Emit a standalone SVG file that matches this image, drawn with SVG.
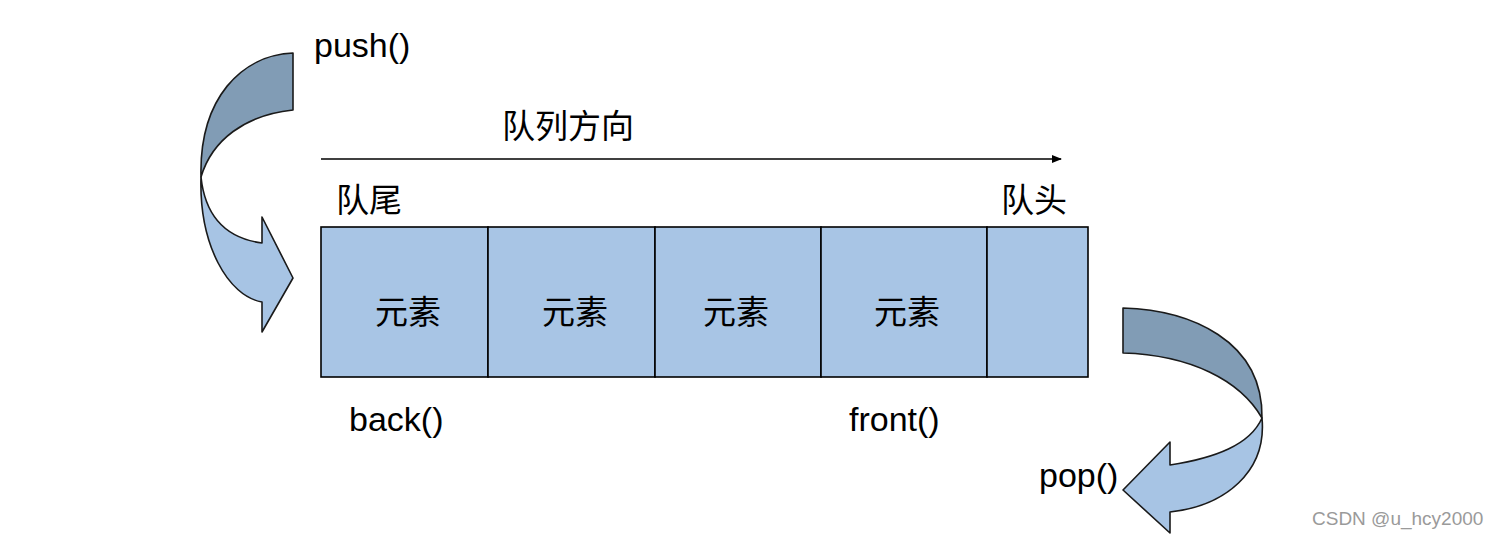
<svg xmlns="http://www.w3.org/2000/svg" width="1497" height="538" viewBox="0 0 1497 538">
<style>
.lat{font-family:"Liberation Sans",Arial,sans-serif;font-size:34px;fill:#000}
.cjk{font-family:"Noto Sans CJK SC","Liberation Sans",sans-serif;font-size:33px;fill:#000}
.cell{fill:#a8c5e5;stroke:#000;stroke-width:1.6}
.dark{fill:#819cb5;stroke:#1a1a1a;stroke-width:1.6;stroke-linejoin:round}
.light{fill:#a7c4e4;stroke:#1a1a1a;stroke-width:1.6;stroke-linejoin:round}
.wm{font-family:"Liberation Sans",Arial,sans-serif;font-size:19px;fill:#9a9a9a}
</style>
<defs>
<marker id="ah" markerWidth="10" markerHeight="8" refX="9" refY="4" orient="auto" markerUnits="userSpaceOnUse">
<path d="M0,0 L10,4 L0,8 Z" fill="#000"/>
</marker>
</defs>
<rect width="1497" height="538" fill="#fff"/>

<g id="queue">
<rect id="cell1" class="cell" x="321" y="227" width="167" height="150"/>
<rect id="cell2" class="cell" x="488" y="227" width="167" height="150"/>
<rect id="cell3" class="cell" x="655" y="227" width="166" height="150"/>
<rect id="cell4" class="cell" x="821" y="227" width="166" height="150"/>
<rect id="cell5" class="cell" x="987" y="227" width="101" height="150"/>
<text class="cjk" x="408" y="324" text-anchor="middle">元素</text>
<text class="cjk" x="575" y="324" text-anchor="middle">元素</text>
<text class="cjk" x="736" y="324" text-anchor="middle">元素</text>
<text class="cjk" x="907" y="324" text-anchor="middle">元素</text>
</g>

<g id="push-arrow">
<path class="dark" d="M293,53 C242,55 199,98 201,177 C212,140 245,115 293,110 Z"/>
<path class="light" d="M201,177 C199,245 228,296 262,302 L262,332 L293,278 L262,217 L262,243 C225,238 205,215 201,177 Z"/>
</g>

<g id="pop-arrow">
<path class="dark" d="M1123,308 C1190,310 1263,340 1262,418 C1240,380 1190,355 1123,353 Z"/>
<path class="light" d="M1262,418 C1267,472 1225,506 1170,512 L1170,533 L1123,490 L1170,442 L1170,465 C1215,458 1250,445 1262,418 Z"/>
</g>

<g id="connectors">
<line x1="321" y1="159" x2="1061" y2="159" stroke="#000" stroke-width="1.6" marker-end="url(#ah)"/>
</g>

<g id="labels">
<text class="lat" x="314" y="57">push()</text>
<text class="cjk" x="502" y="138">队列方向</text>
<text class="cjk" x="336" y="212">队尾</text>
<text class="cjk" x="1001" y="212">队头</text>
<text class="lat" x="349" y="431">back()</text>
<text class="lat" x="849" y="431">front()</text>
<text class="lat" x="1039" y="487">pop()</text>
<text class="wm" x="1312" y="525">CSDN @u_hcy2000</text>
</g>
</svg>
